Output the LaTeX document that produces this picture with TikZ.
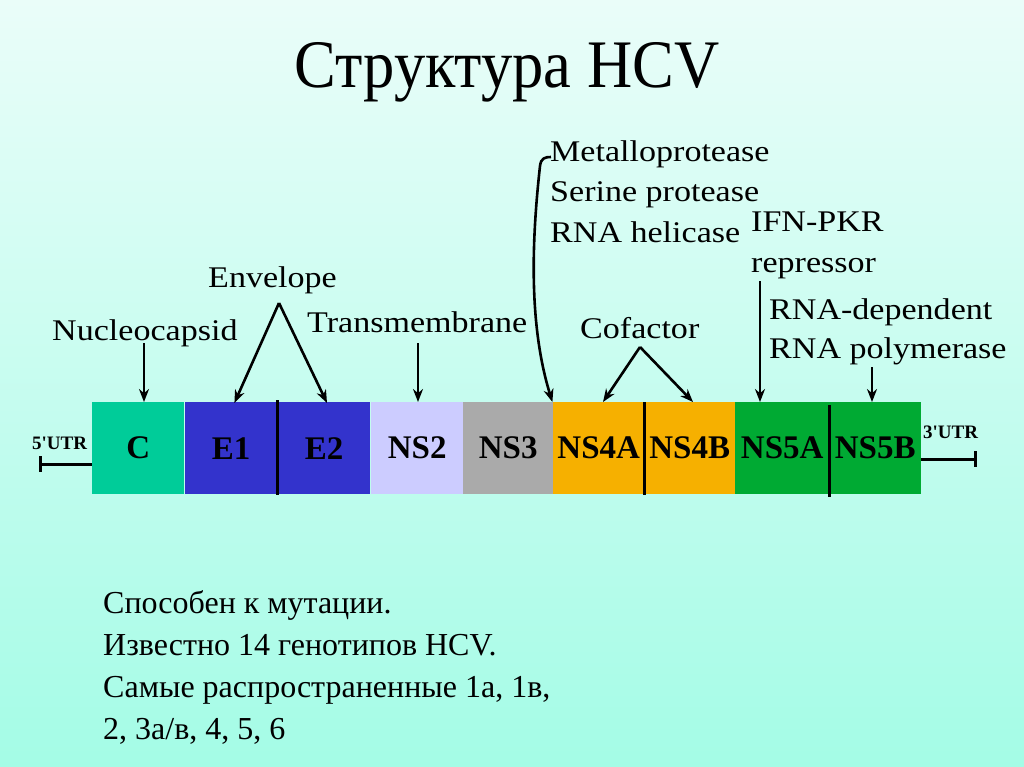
\documentclass[tikz,border=0pt]{standalone}
\usepackage{fontspec}
\setmainfont{Liberation Serif}
\newfontfamily\lblfont[FakeStretch=1.135]{Liberation Serif}
\newfontfamily\titlefont[FakeStretch=0.92]{Liberation Serif}
\usetikzlibrary{arrows.meta}
\definecolor{bgtop}{RGB}{234,253,249}
\definecolor{bgbot}{RGB}{164,252,230}
\definecolor{cC}{RGB}{0,204,153}
\definecolor{cE}{RGB}{51,51,204}
\definecolor{cNStwo}{RGB}{204,204,255}
\definecolor{cNSthree}{RGB}{170,170,170}
\definecolor{cNSfour}{RGB}{246,176,0}
\definecolor{cNSfive}{RGB}{0,170,51}
\tikzset{
  x=1pt,y=1pt,
  seg/.style={minimum width=92pt,minimum height=92pt,inner sep=0pt,anchor=north west,font=\fontsize{33}{36}\selectfont\bfseries},
  lbl/.style={inner sep=0pt,anchor=base west,font=\lblfont\fontsize{30}{34}\selectfont},
  utr/.style={inner sep=0pt,anchor=base west,font=\fontsize{19}{20}\selectfont\bfseries},
  arr/.style={line width=2.6pt,-{Stealth[length=13pt,width=10pt]}},
  divider/.style={line width=3pt},
  bottomtext/.style={inner sep=0pt,anchor=base west,font=\fontsize{32}{36}\selectfont}
}
\begin{document}
\begin{tikzpicture}
\useasboundingbox (0,0) rectangle (1024,-767);
\shade[top color=bgtop,bottom color=bgbot] (0,0) rectangle (1024,-767);
% title
\node[inner sep=0pt,anchor=base,font=\titlefont\fontsize{68}{70}\selectfont] (title) at (507,-88) {Структура HCV};
% bar segments
\node[seg,fill=cC] (sC) at (92,-402) {C};
\node[seg,fill=cE] (sE1) at (185,-402) {E1};
\node[seg,fill=cE] (sE2) at (278,-402) {E2};
\node[seg,fill=cNStwo] (sNS2) at (371,-402) {NS2};
\node[seg,fill=cNSthree,minimum width=90pt] (sNS3) at (463,-402) {NS3};
\node[seg,fill=cNSfour,minimum width=91pt] (sNS4A) at (553,-402) {NS4A};
\node[seg,fill=cNSfour,minimum width=91pt] (sNS4B) at (644,-402) {NS4B};
\node[seg,fill=cNSfive,minimum width=94pt] (sNS5A) at (735,-402) {NS5A};
\node[seg,fill=cNSfive] (sNS5B) at (829,-402) {NS5B};
% dividers
\draw[divider] ([yshift=2pt]sE1.north east) -- ([yshift=-1pt]sE1.south east);
\draw[divider] (sNS4A.north east) -- ([yshift=-1pt]sNS4A.south east);
\draw[divider] ([yshift=-3pt]sNS5A.north east) -- ([yshift=-3pt]sNS5A.south east);
% UTRs
\coordinate (u5) at (40,-464);
\coordinate (u3) at (975,-459);
\draw[line width=3pt] (u5) -- (u5 -| sC.west);
\draw[line width=3pt] ([yshift=8pt]u5) -- ([yshift=-8pt]u5);
\draw[line width=3pt] (u3) -- (u3 -| sNS5B.east);
\draw[line width=3pt] ([yshift=8pt]u3) -- ([yshift=-8pt]u3);
\node[utr] (t5) at (32,-449) {5\textquotesingle UTR};
\node[utr] (t3) at (923,-438) {3\textquotesingle UTR};
% labels
\node[lbl] (nuc) at (52,-340) {Nucleocapsid};
\node[lbl] (env) at (208,-287) {Envelope};
\node[lbl] (tm) at (307,-332) {Transmembrane};
\node[lbl] (meta) at (550,-162) {Metalloprotease};
\node[lbl] (ser) at (550,-202) {Serine protease};
\node[lbl] (hel) at (550,-242) {RNA helicase};
\node[lbl] (cof) at (580,-338) {Cofactor};
\node[lbl] (ifn) at (751,-232) {IFN-PKR};
\node[lbl] (rep) at (751,-272) {repressor};
\node[lbl] (rdep) at (769,-319) {RNA-dependent};
\node[lbl] (rpol) at (769,-358) {RNA polymerase};
% arrow coordinates
\coordinate (nucA) at (144,-343);
\coordinate (envA) at (279,-303);
\coordinate (tmA) at (418,-343);
\coordinate (metaA) at (551,-157);
\coordinate (cofA) at (640,-347);
\coordinate (ifnA) at (760,-281);
\coordinate (polA) at (872,-367);
% arrows
\draw[arr] (nucA) -- (nucA |- sC.north);
\draw[arr] (envA) -- ([xshift=-43pt,yshift=-1pt]sE1.north east);
\draw[arr] (envA) -- ([xshift=49pt,yshift=-1pt]sE2.north west);
\draw[arr] (tmA) -- (tmA |- sNS2.north);
\draw[arr] (metaA) .. controls (545,-157) and (541,-158) .. (540,-166) .. controls (533,-230) and (527,-320) .. ([xshift=-1pt]sNS3.north east);
\draw[arr] (cofA) -- ([xshift=50pt]sNS4A.north west);
\draw[arr] (cofA) -- ([xshift=49pt]sNS4B.north west);
\draw[arr] (ifnA) -- (ifnA |- sNS5A.north);
\draw[arr] (polA) -- (polA |- sNS5B.north);
% bottom text
\node[bottomtext] (b1) at (103,-613) {Способен к мутации.};
\node[bottomtext] (b2) at (103,-655) {Известно 14 генотипов HCV.};
\node[bottomtext] (b3) at (103,-697) {Самые распространенные 1а, 1в,};
\node[bottomtext] (b4) at (103,-739) {2, 3а/в, 4, 5, 6};
\end{tikzpicture}
\end{document}
